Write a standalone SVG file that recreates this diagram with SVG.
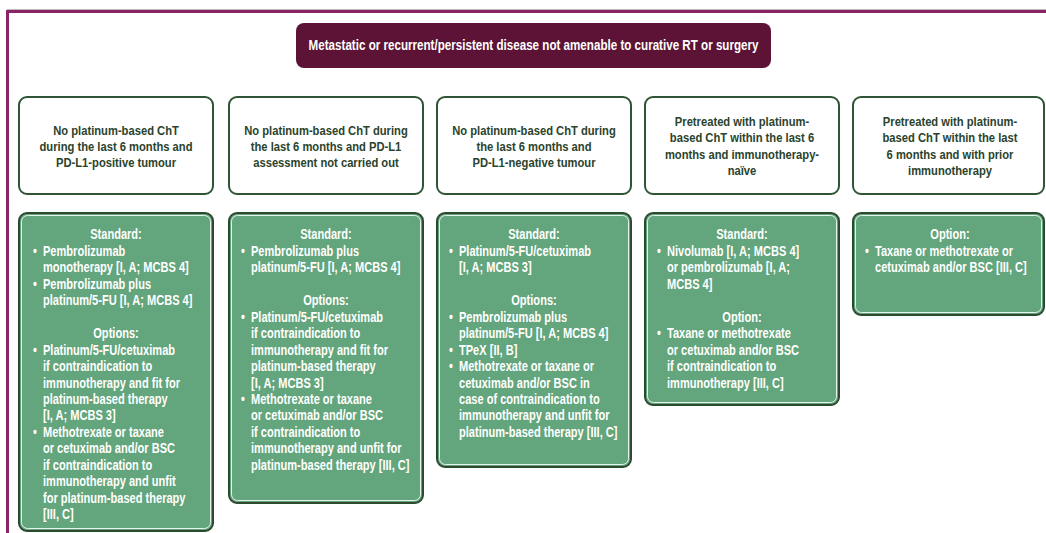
<svg xmlns="http://www.w3.org/2000/svg" width="1046" height="533" viewBox="0 0 1046 533">
<style>
.frame{stroke:#8B2367;stroke-width:3;fill:none}
text{font-family:"Liberation Sans",Arial,sans-serif;font-size:14px;font-weight:bold;transform-box:fill-box}
.hdr rect{fill:#fff;stroke:#2E5535;stroke-width:2}
.hdr text{font-size:13.5px;fill:#2A432C;text-anchor:middle;transform-origin:50% 50%;transform:scaleX(.83)}
.grn rect.o{fill:#63A57C;stroke:#2B4A30;stroke-width:2}
.grn rect.i{fill:none;stroke:#E8F2EA;stroke-width:1}
.grn text{fill:#fff;transform-origin:0 50%;transform:scaleX(.79)}
.grn text.h{text-anchor:middle;transform-origin:50% 50%}
.title rect{fill:#5C1336}
.title text{fill:#fff;text-anchor:middle;transform-origin:50% 50%;transform:scaleX(.83)}
</style>
<rect width="1046" height="533" fill="#fff"/>
<line x1="7" y1="9.5" x2="1046" y2="9.5" stroke="#bbb" stroke-width="1"/>
<path class="frame" d="M7.5,533 V11.5 H1046"/>

<g id="title" class="title">
<rect x="296" y="23" width="475" height="45" rx="8"/>
<text x="533.5" y="50">Metastatic or recurrent/persistent disease not amenable to curative RT or surgery</text>
</g>

<g id="h1" class="hdr">
<rect x="19" y="97" width="194" height="97" rx="8"/>
<text x="116" y="135">No platinum-based ChT</text>
<text x="116" y="151">during the last 6 months and</text>
<text x="116" y="167">PD-L1-positive tumour</text>
</g>
<g id="h2" class="hdr">
<rect x="229" y="97" width="194" height="97" rx="8"/>
<text x="326" y="135">No platinum-based ChT during</text>
<text x="326" y="151">the last 6 months and PD-L1</text>
<text x="326" y="167">assessment not carried out</text>
</g>
<g id="h3" class="hdr">
<rect x="437" y="97" width="194" height="97" rx="8"/>
<text x="534" y="135">No platinum-based ChT during</text>
<text x="534" y="151">the last 6 months and</text>
<text x="534" y="167">PD-L1-negative tumour</text>
</g>
<g id="h4" class="hdr">
<rect x="645" y="97" width="194" height="97" rx="8"/>
<text x="742" y="126">Pretreated with platinum-</text>
<text x="742" y="142">based ChT within the last 6</text>
<text x="742" y="159">months and immunotherapy-</text>
<text x="742" y="175">naïve</text>
</g>
<g id="h5" class="hdr">
<rect x="853" y="97" width="191" height="97" rx="8"/>
<text x="950" y="126">Pretreated with platinum-</text>
<text x="950" y="142">based ChT within the last</text>
<text x="950" y="159">6 months and with prior</text>
<text x="950" y="175">immunotherapy</text>
</g>

<g id="g1" class="grn">
<rect class="o" x="19" y="213" width="194" height="318" rx="8"/>
<rect class="i" x="21.5" y="215.5" width="189" height="313" rx="6"/>
<text class="h" x="116" y="239">Standard:</text>
<text x="33" y="256">•</text><text x="43" y="256">Pembrolizumab</text>
<text x="43" y="272">monotherapy [I, A; MCBS 4]</text>
<text x="33" y="289">•</text><text x="43" y="289">Pembrolizumab plus</text>
<text x="43" y="305">platinum/5-FU [I, A; MCBS 4]</text>
<text class="h" x="116" y="338">Options:</text>
<text x="33" y="355">•</text><text x="43" y="355">Platinum/5-FU/cetuximab</text>
<text x="43" y="371">if contraindication to</text>
<text x="43" y="388">immunotherapy and fit for</text>
<text x="43" y="404">platinum-based therapy</text>
<text x="43" y="420">[I, A; MCBS 3]</text>
<text x="33" y="437">•</text><text x="43" y="437">Methotrexate or taxane</text>
<text x="43" y="453">or cetuximab and/or BSC</text>
<text x="43" y="470">if contraindication to</text>
<text x="43" y="486">immunotherapy and unfit</text>
<text x="43" y="503">for platinum-based therapy</text>
<text x="43" y="519">[III, C]</text>
</g>

<g id="g2" class="grn">
<rect class="o" x="229" y="213" width="194" height="290" rx="8"/>
<rect class="i" x="231.5" y="215.5" width="189" height="285" rx="6"/>
<text class="h" x="326" y="239">Standard:</text>
<text x="241" y="256">•</text><text x="251" y="256">Pembrolizumab plus</text>
<text x="251" y="272">platinum/5-FU [I, A; MCBS 4]</text>
<text class="h" x="326" y="305">Options:</text>
<text x="241" y="322">•</text><text x="251" y="322">Platinum/5-FU/cetuximab</text>
<text x="251" y="338">if contraindication to</text>
<text x="251" y="355">immunotherapy and fit for</text>
<text x="251" y="371">platinum-based therapy</text>
<text x="251" y="388">[I, A; MCBS 3]</text>
<text x="241" y="404">•</text><text x="251" y="404">Methotrexate or taxane</text>
<text x="251" y="420">or cetuximab and/or BSC</text>
<text x="251" y="437">if contraindication to</text>
<text x="251" y="453">immunotherapy and unfit for</text>
<text x="251" y="470">platinum-based therapy [III, C]</text>
</g>

<g id="g3" class="grn">
<rect class="o" x="437" y="213" width="194" height="254" rx="8"/>
<rect class="i" x="439.5" y="215.5" width="189" height="249" rx="6"/>
<text class="h" x="534" y="239">Standard:</text>
<text x="449" y="256">•</text><text x="459" y="256">Platinum/5-FU/cetuximab</text>
<text x="459" y="272">[I, A; MCBS 3]</text>
<text class="h" x="534" y="305">Options:</text>
<text x="449" y="322">•</text><text x="459" y="322">Pembrolizumab plus</text>
<text x="459" y="338">platinum/5-FU [I, A; MCBS 4]</text>
<text x="449" y="355">•</text><text x="459" y="355">TPeX [II, B]</text>
<text x="449" y="371">•</text><text x="459" y="371">Methotrexate or taxane or</text>
<text x="459" y="388">cetuximab and/or BSC in</text>
<text x="459" y="404">case of contraindication to</text>
<text x="459" y="420">immunotherapy and unfit for</text>
<text x="459" y="437">platinum-based therapy [III, C]</text>
</g>

<g id="g4" class="grn">
<rect class="o" x="645" y="213" width="194" height="192" rx="8"/>
<rect class="i" x="647.5" y="215.5" width="189" height="187" rx="6"/>
<text class="h" x="742" y="239">Standard:</text>
<text x="657" y="256">•</text><text x="667" y="256">Nivolumab [I, A; MCBS 4]</text>
<text x="667" y="272">or pembrolizumab [I, A;</text>
<text x="667" y="289">MCBS 4]</text>
<text class="h" x="742" y="322">Option:</text>
<text x="657" y="338">•</text><text x="667" y="338">Taxane or methotrexate</text>
<text x="667" y="355">or cetuximab and/or BSC</text>
<text x="667" y="371">if contraindication to</text>
<text x="667" y="388">immunotherapy [III, C]</text>
</g>

<g id="g5" class="grn">
<rect class="o" x="853" y="213" width="191" height="102" rx="8"/>
<rect class="i" x="855.5" y="215.5" width="186" height="97" rx="6"/>
<text class="h" x="950" y="239">Option:</text>
<text x="865" y="256">•</text><text x="875" y="256">Taxane or methotrexate or</text>
<text x="875" y="272">cetuximab and/or BSC [III, C]</text>
</g>
</svg>
